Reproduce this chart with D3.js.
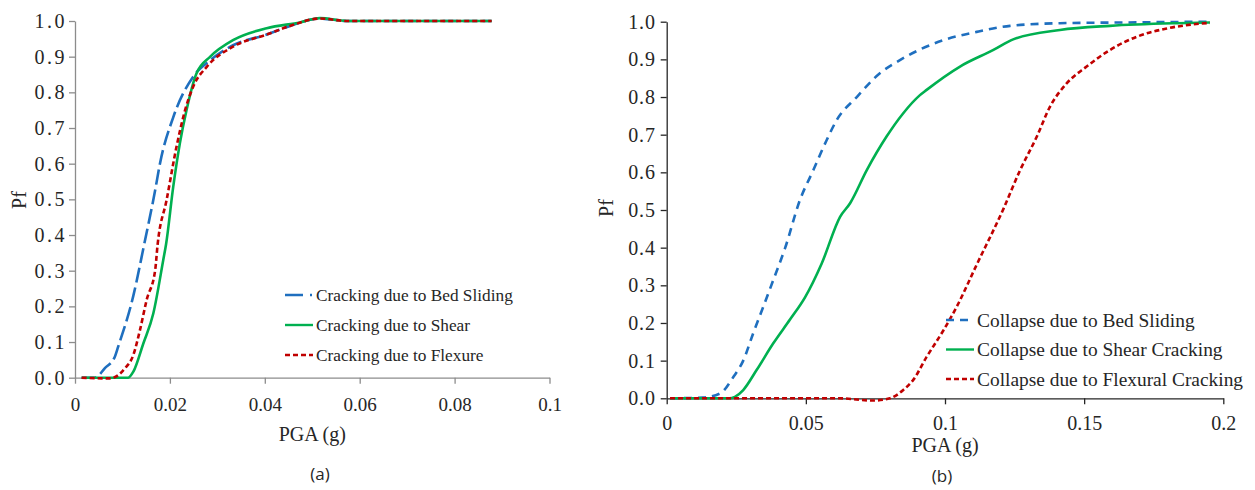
<!DOCTYPE html>
<html>
<head>
<meta charset="utf-8">
<script src="https://cdn.jsdelivr.net/npm/d3@7"></script>
<style>
  body { margin: 0; background: #fff; }
</style>
</head>
<body>
<div id="chart"></div>
<script>
const width = 1255;
const height = 490;
const serif = "'Liberation Serif', 'Times New Roman', serif";

// panel (a): cracking fragility curves [PGA (g), Pf]
const crackBedSliding = [[0.0014,0],[0.0042,0],[0.0063,0.027],[0.0084,0.059],[0.0091,0.087],[0.0123,0.23],[0.0146,0.375],[0.0169,0.526],[0.0179,0.60],[0.0207,0.73],[0.0249,0.844],[0.0285,0.89],[0.0333,0.932],[0.0404,0.962],[0.0453,0.986],[0.0516,1.007],[0.0573,1.0],[0.0878,1.0]];
const crackShear = [[0.0014,0],[0.0112,0],[0.0123,0.017],[0.0144,0.096],[0.0165,0.18],[0.0186,0.33],[0.0192,0.375],[0.0207,0.535],[0.0221,0.657],[0.0235,0.75],[0.0256,0.853],[0.0285,0.90],[0.0334,0.947],[0.0404,0.98],[0.0474,0.996],[0.0516,1.008],[0.0573,1.0],[0.0878,1.0]];
const crackFlexure = [[0.0014,0],[0.0074,-0.002],[0.0105,0.026],[0.0123,0.064],[0.0137,0.134],[0.0151,0.218],[0.0169,0.302],[0.0174,0.372],[0.0193,0.498],[0.0214,0.648],[0.0232,0.75],[0.0249,0.816],[0.0278,0.872],[0.0333,0.928],[0.0404,0.962],[0.0453,0.986],[0.0516,1.007],[0.0573,1.0],[0.0878,1.0]];

// panel (b): collapse fragility curves [PGA (g), Pf]
const collBedSliding = [[0.0012,0],[0.013,0.002],[0.0192,0.013],[0.024,0.057],[0.0275,0.10],[0.0311,0.173],[0.0347,0.243],[0.0383,0.314],[0.0425,0.398],[0.0479,0.527],[0.0527,0.606],[0.0575,0.686],[0.0611,0.739],[0.0683,0.80],[0.0766,0.863],[0.0838,0.898],[0.0994,0.951],[0.1114,0.973],[0.1234,0.989],[0.1413,0.996],[0.1653,0.998],[0.1952,1.0]];
const collShear = [[0.0012,0],[0.0225,0],[0.0245,0.004],[0.0275,0.022],[0.0323,0.075],[0.0383,0.146],[0.0443,0.209],[0.0497,0.268],[0.0557,0.358],[0.0623,0.482],[0.0659,0.518],[0.0719,0.606],[0.079,0.695],[0.085,0.757],[0.091,0.805],[0.0934,0.819],[0.1054,0.881],[0.1174,0.925],[0.1245,0.953],[0.1413,0.978],[0.1593,0.989],[0.1833,0.996],[0.1952,0.998]];
const collFlexure = [[0.0012,0],[0.062,0],[0.0742,-0.006],[0.0802,0],[0.085,0.022],[0.0886,0.049],[0.0934,0.11],[0.0994,0.18],[0.1042,0.243],[0.1114,0.355],[0.121,0.503],[0.127,0.606],[0.133,0.695],[0.1377,0.774],[0.1437,0.836],[0.1509,0.881],[0.1593,0.925],[0.1689,0.96],[0.1797,0.982],[0.1892,0.993],[0.1952,0.997]];

const yTicks = [0, 0.1, 0.2, 0.3, 0.4, 0.5, 0.6, 0.7, 0.8, 0.9, 1.0];
const xTicksA = [0, 0.02, 0.04, 0.06, 0.08, 0.1];
const xTicksB = [0, 0.05, 0.1, 0.15, 0.2];
const namesA = ["Cracking due to Bed Sliding", "Cracking due to Shear", "Cracking due to Flexure"];
const namesB = ["Collapse due to Bed Sliding", "Collapse due to Shear Cracking", "Collapse due to Flexural Cracking"];

const colors = ["#1f6fbf", "#00b050", "#c00000"];

const svg = d3.select("#chart")
    .append("svg")
    .attr("width", width)
    .attr("height", height)
    .attr("font-family", serif);

function drawPanel(p) {
    const x = d3.scaleLinear().domain(p.xDomain).range([p.left, p.right]);
    const y = d3.scaleLinear().domain([0, 1]).range([p.bottom, p.top]);

    const g = svg.append("g");

    const line = d3.line()
        .x(d => x(d[0]))
        .y(d => y(d[1]))
        .curve(d3.curveMonotoneX);

    const xAxis = g.append("g")
        .attr("transform", `translate(0, ${p.bottom})`)
        .call(d3.axisBottom(x).tickValues(p.xTicks).tickSize(6).tickSizeOuter(0)
            .tickFormat(d => d === 0 ? "0" : String(d)));
    xAxis.attr("font-family", serif).attr("font-size", p.tickFont);
    xAxis.selectAll("text").attr("dy", p.xLabelDy);

    const yAxis = g.append("g")
        .attr("transform", `translate(${p.left}, 0)`)
        .call(d3.axisLeft(y).tickValues(yTicks).tickSize(6).tickSizeOuter(0)
            .tickFormat(d3.format(".1f")));
    yAxis.attr("font-family", serif).attr("font-size", p.yTickFont);
    yAxis.selectAll("text").attr("dx", p.yDx).attr("letter-spacing", p.yLetter);

    g.selectAll(".domain, .tick line").attr("stroke", p.axisColor).attr("stroke-width", 1.3);
    g.selectAll(".tick text").attr("fill", "#262626");

    p.series.forEach((s, i) => {
        g.append("path")
            .datum(s)
            .attr("fill", "none")
            .attr("stroke", colors[i])
            .attr("stroke-width", 2.6)
            .attr("stroke-dasharray", p.dashes[i])
            .attr("d", line);
    });

    // axis titles
    g.append("text")
        .attr("x", (p.left + p.right) / 2)
        .attr("y", p.xTitleY)
        .attr("text-anchor", "middle")
        .attr("font-family", serif)
        .attr("font-size", 20)
        .attr("fill", "#262626")
        .text("PGA (g)");

    g.append("text")
        .attr("transform", `translate(${p.yTitleX}, ${p.yTitleY}) rotate(-90)`)
        .attr("text-anchor", "middle")
        .attr("font-family", serif)
        .attr("font-size", 20)
        .attr("fill", "#262626")
        .text("Pf");

    // legend
    p.names.forEach((name, i) => {
        const ly = p.legendY + i * p.legendGap;
        g.append("line")
            .attr("x1", p.legendX).attr("x2", p.legendX + 28)
            .attr("y1", ly).attr("y2", ly)
            .attr("stroke", colors[i])
            .attr("stroke-width", 2.4)
            .attr("stroke-dasharray", p.legendDashes[i]);
        g.append("text")
            .attr("x", p.legendX + 31)
            .attr("y", ly)
            .attr("dy", "0.35em")
            .attr("font-family", serif)
            .attr("font-size", p.legendFont)
            .attr("fill", "#262626")
            .text(name);
    });

    // panel caption
    g.append("text")
        .attr("x", p.captionX)
        .attr("y", p.captionY)
        .attr("text-anchor", "middle")
        .attr("font-family", "'Open Sans', 'Liberation Sans', sans-serif")
        .attr("font-size", 17)
        .attr("fill", "#262626")
        .text(p.caption);
}

drawPanel({
    left: 75, right: 549.5, top: 21, bottom: 377.7,
    xDomain: [0, 0.1], xTicks: xTicksA,
    series: [crackBedSliding, crackShear, crackFlexure],
    dashes: ["15,5", null, "5,3"],
    legendDashes: ["18,7,2,10", null, "5,3"],
    names: namesA,
    axisColor: "#8c8c8c",
    tickFont: 19, yTickFont: 20, yLetter: 2.5, yDx: 1, xLabelDy: "1.3em",
    xTitleY: 441, yTitleX: 26, yTitleY: 200,
    legendX: 285, legendY: 295, legendGap: 30, legendFont: 17.3,
    captionX: 320, captionY: 480, caption: "(a)"
});

drawPanel({
    left: 666.7, right: 1223.3, top: 21.7, bottom: 398.3,
    xDomain: [0, 0.2], xTicks: xTicksB,
    series: [collBedSliding, collShear, collFlexure],
    dashes: ["8,6", null, "5,3"],
    legendDashes: ["8,6", null, "5,3"],
    names: namesB,
    axisColor: "#262626",
    tickFont: 20, yTickFont: 20, yLetter: 0.8, yDx: -2, xLabelDy: "1.15em",
    xTitleY: 452, yTitleX: 613, yTitleY: 208,
    legendX: 946, legendY: 320, legendGap: 29.5, legendFont: 19.4,
    captionX: 942, captionY: 482, caption: "(b)"
});
</script>
</body>
</html>
